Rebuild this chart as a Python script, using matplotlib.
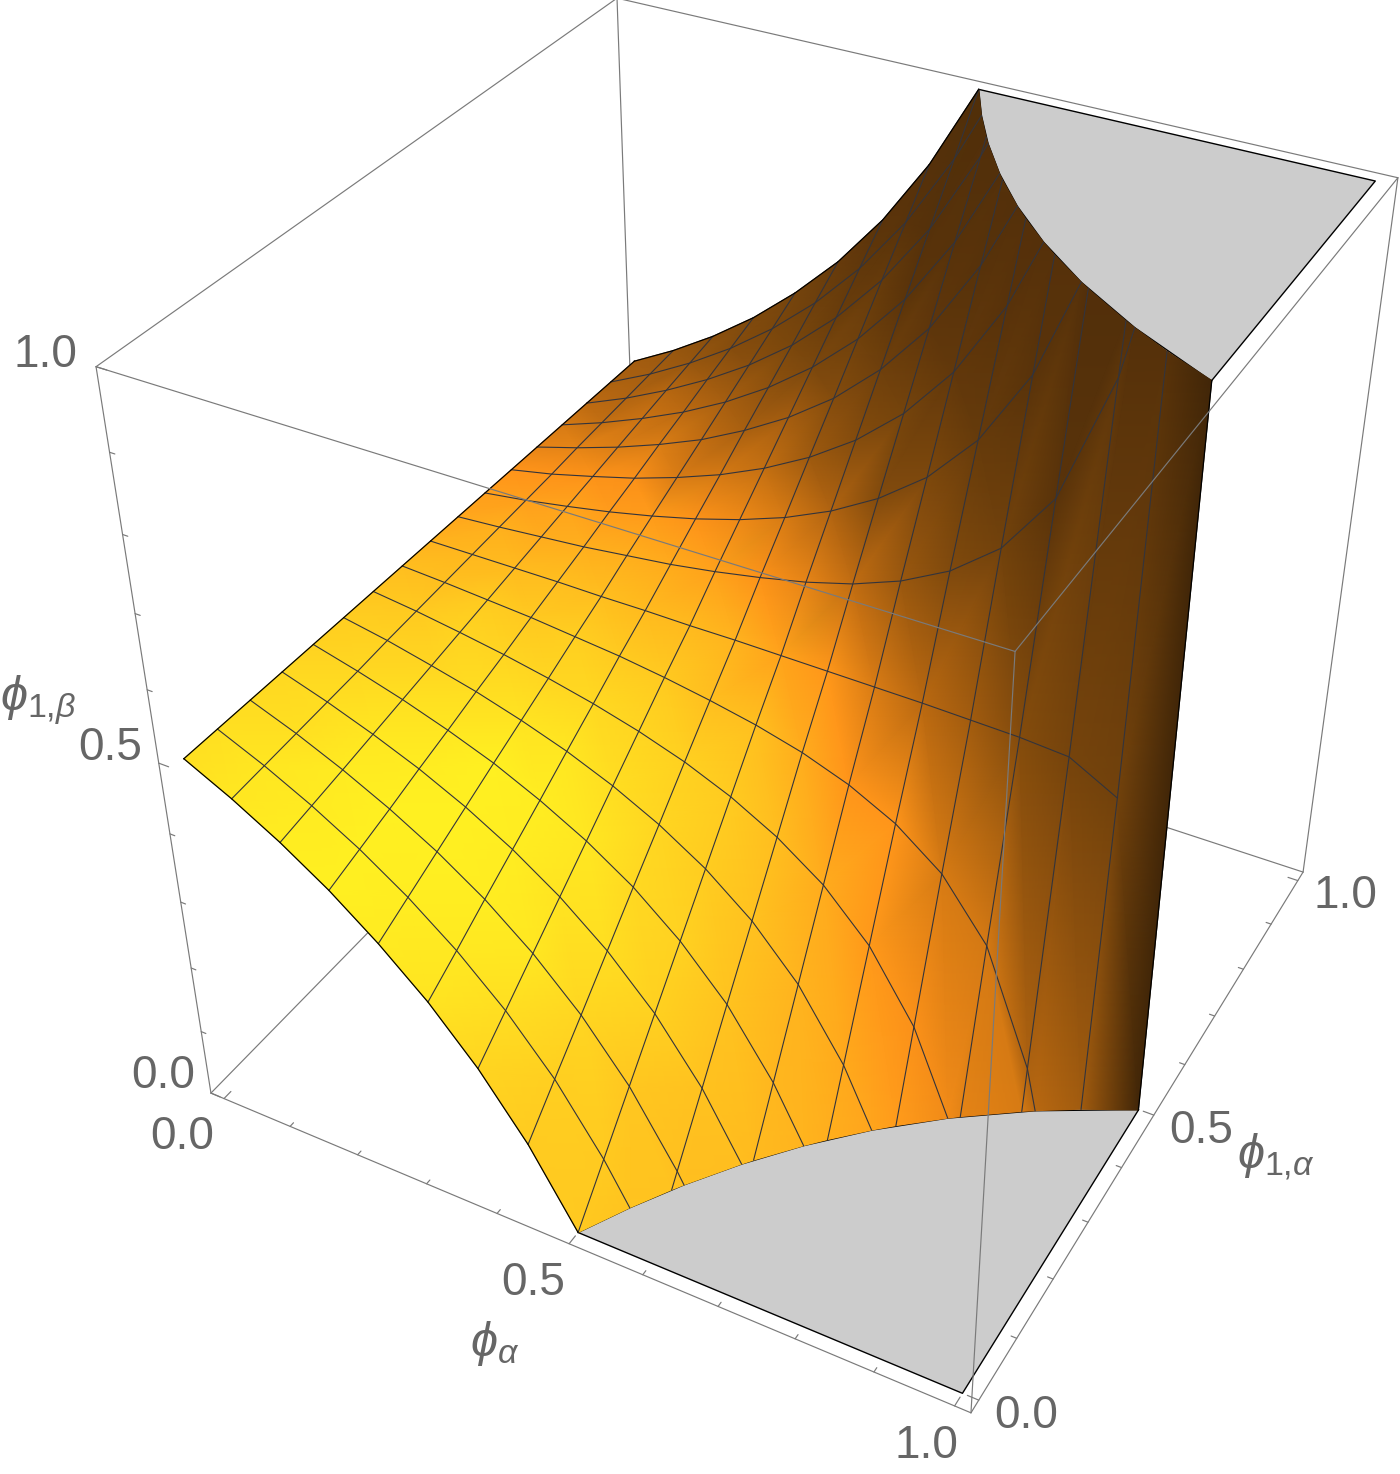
import numpy as np
import matplotlib
matplotlib.use("Agg")
import matplotlib.pyplot as plt
from matplotlib.colors import LinearSegmentedColormap
from matplotlib.tri import Triangulation

N = np.nan
alpha_levels = [k / 16 for k in range(17)]
phi_levels = [j / 16 for j in range(17)]
# phi_1beta read at the mesh crossings: one row per phi_1alpha level, one column per phi_alpha level
phi1beta = [
 [.5,.467,.429,.385,.333,.273,.2,.111,0,N,N,N,N,N,N,N,N],
 [.5,.471,.4375,.399,.354,.301,.2375,.160,.0625,N,N,N,N,N,N,N,N],
 [.5,.475,.446,.413,.375,.330,.275,.208,.125,.018,N,N,N,N,N,N,N],
 [.5,.479,.455,.428,.396,.358,.3125,.257,.1875,.098,N,N,N,N,N,N,N],
 [.5,.483,.464,.442,.417,.386,.35,.306,.25,.179,.083,N,N,N,N,N,N],
 [.5,.488,.473,.457,.4375,.415,.3875,.354,.3125,.259,.1875,.0875,N,N,N,N,N],
 [.5,.492,.482,.471,.458,.443,.425,.403,.375,.339,.292,.225,.125,N,N,N,N],
 [.5,.496,.491,.486,.479,.472,.4625,.451,.4375,.420,.396,.3625,.3125,.229,.0625,N,N],
 [.5,.5,.5,.5,.499,.499,.498,.498,.497,.496,.495,.494,.492,.49,.485,.45,.25],
 [.5,.504,.509,.514,.521,.528,.5375,.549,.5625,.580,.604,.6375,.6875,.771,.9375,N,N],
 [.5,.508,.518,.529,.542,.557,.575,.597,.625,.661,.708,.775,.875,N,N,N,N],
 [.5,.512,.527,.543,.5625,.585,.6125,.646,.6875,.741,.8125,.9125,N,N,N,N,N],
 [.5,.517,.536,.558,.583,.614,.65,.694,.75,.821,.917,N,N,N,N,N,N],
 [.5,.521,.545,.572,.604,.642,.6875,.743,.8125,.902,N,N,N,N,N,N,N],
 [.5,.525,.554,.587,.625,.670,.725,.792,.875,.982,N,N,N,N,N,N,N],
 [.5,.529,.5625,.601,.646,.699,.7625,.840,.9375,N,N,N,N,N,N,N,N],
 [.5,.533,.571,.615,.667,.727,.8,.889,1.0,N,N,N,N,N,N,N,N],
]
# where each phi_1alpha level leaves the domain (phi_alpha at the rim of the surface)
alpha_rim = [.5,.5333,.5714,.6154,.6667,.7273,.8,.8889,1.0,.8889,.8,.7273,.6667,.6154,.5714,.5333,.5]
# where each phi_alpha level (from 0.5 up) meets the lower and the upper rim
rim_alpha = [.5,.5625,.625,.6875,.75,.8125,.875,.9375,1.0]
phi_rim_low = [0,.1111,.2,.2727,.3333,.3846,.4286,.4667,.499]
phi_rim_high = [1,.8889,.8,.7273,.6667,.6154,.5714,.5333,.501]

tick_major = [0, .5, 1]
tick_minor = [.1, .2, .3, .4, .6, .7, .8, .9]
tick_labels = ["0.0", "0.5", "1.0"]

# camera calibrated on the corners of the bounding box (padded in the two horizontal directions)
lo, hi = -.02, 1.02
zlo, zhi = 0.0, 1.0
box_3d = np.array([[lo,lo,zlo],[hi,lo,zlo],[hi,hi,zlo],[lo,lo,zhi],[hi,lo,zhi],[hi,hi,zhi],[lo,hi,zhi]])
box_px = np.array([[211,1093],[971,1413],[1303,872],[96,367],[1015,651],[1398,178],[617,-2]], float)
A = []
for (X, Y, Z_), (u, v) in zip(box_3d, box_px):
    A.append([X,Y,Z_,1,0,0,0,0,-u*X,-u*Y,-u*Z_,-u])
    A.append([0,0,0,0,X,Y,Z_,1,-v*X,-v*Y,-v*Z_,-v])
P = np.linalg.svd(np.array(A))[2][-1].reshape(3, 4)

def project(a, p, z):
    q = P @ np.vstack([np.asarray(a, float), np.asarray(p, float), np.asarray(z, float), np.ones(np.size(a))])
    return q[0] / q[2], q[1] / q[2], q[2]

# vertices
Z = np.array(phi1beta, float)
pts = {}
def add(a, p, z):
    pts.setdefault((round(a, 5), round(p, 5)), z)
for j, p in enumerate(phi_levels):
    for k, a in enumerate(alpha_levels):
        if not np.isnan(Z[j, k]):
            add(a, p, Z[j, k])
for j, p in enumerate(phi_levels):
    if j != 8:
        add(alpha_rim[j], p, 0.0 if j < 8 else 1.0)
for a, pl, ph in zip(rim_alpha, phi_rim_low, phi_rim_high):
    add(a, pl, 0.0)
    add(a, ph, 1.0)
keys = np.array(list(pts.keys()))
va, vp = keys[:, 0], keys[:, 1]
vz = np.array(list(pts.values()))
tri = Triangulation(va, vp).triangles
ca, cp = va[tri].mean(1), vp[tri].mean(1)
tri = tri[(2 * ca * (1 - cp) <= 1) & (2 * ca * cp <= 1)]

# smooth vertex shade: plane fitted through each vertex and its neighbours
ring = [set() for _ in va]
for t in tri:
    for i in t:
        ring[i].update(t.tolist())
vn = np.zeros((len(va), 3))
for i, r in enumerate(ring):
    idx = sorted(r)
    B = np.c_[va[idx], vp[idx], np.ones(len(idx))]
    sol = np.linalg.lstsq(B, vz[idx], rcond=None)[0]
    vn[i] = [-sol[0], -sol[1], 1.0]
vn /= np.linalg.norm(vn, axis=1, keepdims=True)
light = np.array([.51, -.27, .82])
shade = vn @ light
shade = np.array([.5 * shade[i] + .5 * shade[sorted(r)].mean() for i, r in enumerate(ring)])
shade[va >= .97] = -.15

cmap = LinearSegmentedColormap.from_list("lit", [
    (0.00, (0.24, 0.14, 0.03)),
    (0.33, (0.35, 0.20, 0.04)),
    (0.52, (0.50, 0.29, 0.05)),
    (0.66, (0.76, 0.43, 0.07)),
    (0.76, (1.00, 0.58, 0.10)),
    (0.88, (1.00, 0.74, 0.12)),
    (0.96, (1.00, 0.85, 0.13)),
    (1.00, (1.00, 0.94, 0.13)),
])

fig = plt.figure(figsize=(14, 14.74), dpi=100)
ax = fig.add_axes([0, 0, 1, 1])
ax.set_xlim(0, 1400); ax.set_ylim(1474, 0); ax.axis("off")

BOX = "#7a7a7a"
def edge(a, b, **kw):
    x, y, _ = project([a[0], b[0]], [a[1], b[1]], [a[2], b[2]])
    ax.plot(x, y, color=BOX, lw=.85, solid_capstyle="round", **kw)

c = lambda i, j, k: ((lo, hi)[i], (lo, hi)[j], (zlo, zhi)[k])
for a, b in [((0,0,0),(0,1,0)), ((0,1,0),(1,1,0)), ((0,1,0),(0,1,1))]:
    edge(c(*a), c(*b), zorder=1)

# flat floor and ceiling pieces
nlow = list(range(0, 9))
fa = [alpha_rim[j] for j in nlow] + [1.0]
fp = [phi_levels[j] for j in nlow] + [0.0]
x, y, _ = project(fa, fp, np.zeros(len(fa)))
ax.fill(x, y, fc="#cccccc", ec="black", lw=1.0, zorder=2, joinstyle="round")
nup = list(range(8, 17))
fa = [alpha_rim[j] for j in nup] + [1.0]
fp = [phi_levels[j] for j in nup] + [1.0]
x, y, _ = project(fa, fp, np.ones(len(fa)))
ax.fill(x, y, fc="#cccccc", ec="black", lw=1.0, zorder=2, joinstyle="round")

# surface
sx, sy, sw = project(va, vp, vz)
_, _, w_near = project([hi], [lo], [zhi])
_, _, w_far = project([lo], [hi], [zlo])
depth = sw[tri].mean(1) * np.sign(w_far[0] - w_near[0])
order = np.argsort(-depth)
ax.tripcolor(sx, sy, tri[order], shade, shading="gouraud", cmap=cmap, vmin=-.2, vmax=1.0, zorder=3)

# mesh lines
MESH = "#33343c"
for j in range(1, 16):
    ks = [k for k in range(16) if not np.isnan(Z[j, k])]
    a = [alpha_levels[k] for k in ks]; z = [Z[j, k] for k in ks]
    if j != 8:
        a.append(alpha_rim[j]); z.append(0.0 if j < 8 else 1.0)
    x, y, _ = project(a, np.full(len(a), phi_levels[j]), z)
    ax.plot(x, y, color=MESH, lw=.8, zorder=4)
for k in range(1, 16):
    js = [j for j in range(17) if not np.isnan(Z[j, k])]
    p = [phi_levels[j] for j in js]; z = [Z[j, k] for j in js]
    if k >= 8:
        i = k - 8
        p = [phi_rim_low[i]] + p + [phi_rim_high[i]]
        z = [0.0] + z + [1.0]
    x, y, _ = project(np.full(len(p), alpha_levels[k]), p, z)
    ax.plot(x, y, color=MESH, lw=.8, zorder=4)

# outer rim of the surface
def rim(a, p, z):
    x, y, _ = project(a, p, z)
    ax.plot(x, y, color="black", lw=.9, zorder=5, solid_joinstyle="round")
ks0 = [k for k in range(17) if not np.isnan(Z[0, k])]
rim([alpha_levels[k] for k in ks0], np.zeros(len(ks0)), [Z[0, k] for k in ks0])
ks1 = [k for k in range(17) if not np.isnan(Z[16, k])]
rim([alpha_levels[k] for k in ks1], np.ones(len(ks1)), [Z[16, k] for k in ks1])
rim(np.zeros(17), phi_levels, Z[:, 0])
rim([1, 1], [.499, .501], [0, 1])

# front edges of the box
for a, b in [((0,0,0),(1,0,0)), ((1,0,0),(1,1,0)), ((0,0,0),(0,0,1)), ((0,0,1),(0,1,1)),
             ((0,1,1),(1,1,1)), ((1,1,1),(1,1,0)), ((0,0,1),(1,0,1)), ((1,0,1),(1,1,1)), ((1,0,1),(1,0,0))]:
    edge(c(*a), c(*b), zorder=6)

# ticks
for vals, L in ((tick_major, .014), (tick_minor, .007)):
    for t in vals:
        edge((t, lo, zlo), (t, lo + L, zlo), zorder=6)
        edge((hi, t, zlo), (hi - L, t, zlo), zorder=6)
        edge((lo, lo, t), (lo + L, lo, t), zorder=6)

plt.rcParams["mathtext.fontset"] = "custom"
plt.rcParams["mathtext.rm"] = "Liberation Sans"
plt.rcParams["mathtext.it"] = "Liberation Sans:italic"
plt.rcParams["mathtext.bf"] = "Liberation Sans:bold"
TXT = "#666666"
def label(x, y, s, size=33):
    ax.text(x, y, s, ha="center", va="center", fontsize=size, color=TXT, family="Liberation Sans", zorder=7)

for (x, y), s in zip([(163, 1076), (110, 748), (45, 355)], tick_labels):
    label(x, y, s)
for (x, y), s in zip([(182, 1137), (533, 1283), (926, 1446)], tick_labels):
    label(x, y, s)
for (x, y), s in zip([(1026, 1416), (1201, 1131), (1345, 896)], tick_labels):
    label(x, y, s)
label(495, 1343, r"$\phi_{\alpha}$", 35)
label(1276, 1157, r"$\phi_{1{,}\alpha}$", 35)
label(38, 700, r"$\phi_{1{,}\beta}$", 35)

fig.savefig("out.png", dpi=100)
